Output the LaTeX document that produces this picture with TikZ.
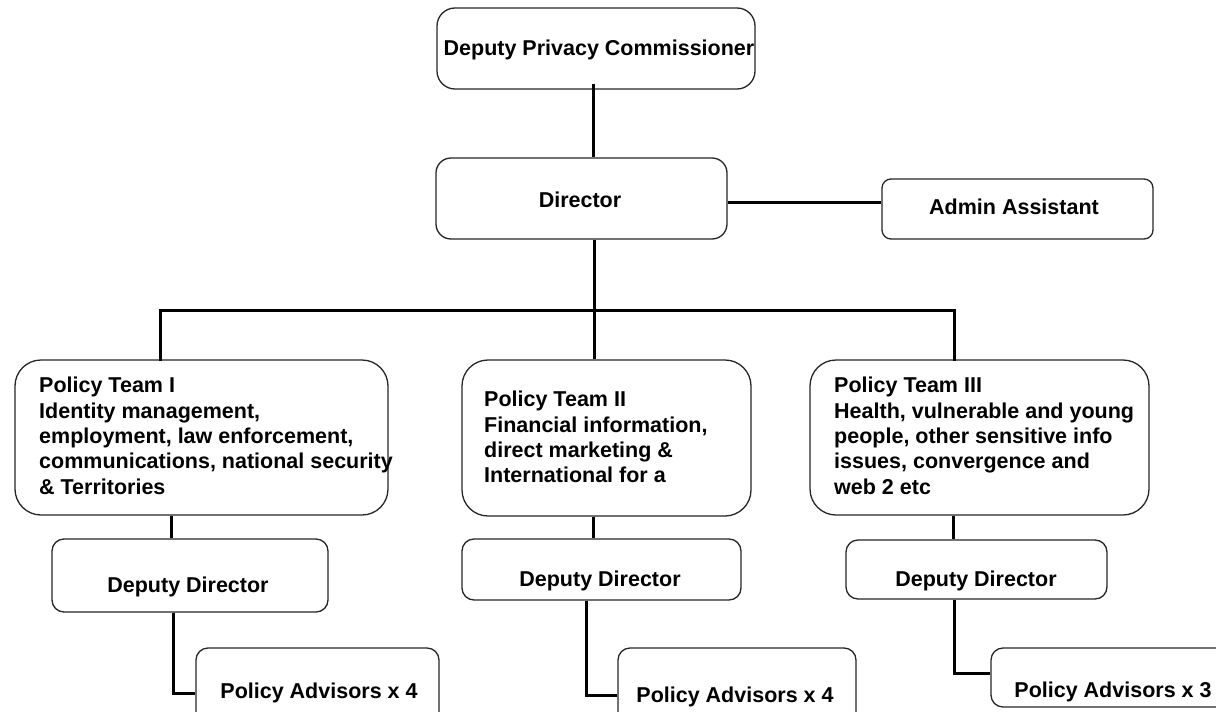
\documentclass[tikz,border=0pt]{standalone}
\usepackage{fontspec}
\setmainfont{Liberation Sans}
\begin{document}
\begin{tikzpicture}[x=1pt,y=-1pt,
  box/.style={draw=black!85,line width=1.3pt,fill=white,inner sep=0pt},
  conn/.style={draw=black,line width=3pt},
  lbl/.style={inner sep=0pt,font=\fontsize{21.5}{25.4}\selectfont\bfseries},
  teamtxt/.style={lbl,align=left,anchor=north west}]
\useasboundingbox (0,0) rectangle (1216,712);
\clip (0,0) rectangle (1216,712);
% boxes
\node[box,rounded corners=18pt,minimum width=318pt,minimum height=81pt] (dpc) at (596,48.5) {};
\node[box,rounded corners=15pt,minimum width=291pt,minimum height=81pt] (dir) at (581.5,198.5) {};
\node[box,rounded corners=9pt,minimum width=271pt,minimum height=60pt] (adm) at (1017.5,209) {};
\node[box,rounded corners=26pt,minimum width=373pt,minimum height=155pt] (t1) at (201.5,437.5) {};
\node[box,rounded corners=26pt,minimum width=289pt,minimum height=156pt] (t2) at (606.5,438) {};
\node[box,rounded corners=26pt,minimum width=339pt,minimum height=155pt] (t3) at (979.5,437.5) {};
\node[box,rounded corners=12pt,minimum width=276pt,minimum height=73pt] (dd1) at (190,575.5) {};
\node[box,rounded corners=12pt,minimum width=279pt,minimum height=61pt] (dd2) at (601.5,569.5) {};
\node[box,rounded corners=12pt,minimum width=261pt,minimum height=59pt] (dd3) at (976.5,569.5) {};
\node[box,rounded corners=12pt,minimum width=243pt,minimum height=82pt] (pa1) at (317.5,689) {};
\node[box,rounded corners=12pt,minimum width=238pt,minimum height=82pt] (pa2) at (737,689) {};
\node[box,rounded corners=12pt,minimum width=249pt,minimum height=59pt] (pa3) at (1115.5,677.5) {};
% texts
\node[lbl] (dpct) at (599,50) {Deputy Privacy Commissioner};
\node[lbl] (dirt) at (580,200) {Director};
\node[lbl] (admt) at (1014,207) {Admin Assistant};
\node[teamtxt] (t1t) at (39,377) {Policy Team I\\Identity management,\\employment, law enforcement,\\communications, national security\\\& Territories};
\node[teamtxt] (t2t) at (484,391) {Policy Team II\\Financial information,\\direct marketing \&\\International for a};
\node[teamtxt] (t3t) at (834,377) {Policy Team III\\Health, vulnerable and young\\people, other sensitive info\\issues, convergence and\\web 2 etc};
\node[lbl] (dd1t) at (188,587) {Deputy Director};
\node[lbl] (dd2t) at (600,581) {Deputy Director};
\node[lbl] (dd3t) at (976,581) {Deputy Director};
\node[lbl] (pa1t) at (319,693) {Policy Advisors x 4};
\node[lbl] (pa2t) at (735,697) {Policy Advisors x 4};
\node[lbl] (pa3t) at (1113,692) {Policy Advisors x 3};
% connectors
\coordinate (busL) at (160,310);
\coordinate (busR) at (954,310);
\draw[conn] ([xshift=-3pt,yshift=6pt]dpc.south) -- ([xshift=11.5pt]dir.north);
\draw[conn] ([xshift=12.5pt]dir.south) -- ([xshift=-12.5pt]t2.north);
\draw[conn] ([yshift=-3.5pt]dir.east) -- ([yshift=7pt]adm.west);
\draw[conn,line cap=rect] ([xshift=-41.5pt]t1.north) -- (busL) -- (busR) -- ([xshift=-25.5pt]t3.north);
\draw[conn] ([xshift=-30.5pt]t1.south) -- ([xshift=-19pt]dd1.north);
\draw[conn] ([xshift=-13.5pt]t2.south) -- ([xshift=-8.5pt]dd2.north);
\draw[conn] ([xshift=-26.5pt]t3.south) -- ([xshift=-23.5pt]dd3.north);
\draw[conn] ([xshift=-17pt]dd1.south) |- ([yshift=-4pt]pa1.west);
\draw[conn] ([xshift=-15.5pt]dd2.south) |- ([yshift=-6pt]pa2.west);
\draw[conn] ([xshift=-22.5pt]dd3.south) |- ([yshift=4.5pt]pa3.west);
\end{tikzpicture}
\end{document}
